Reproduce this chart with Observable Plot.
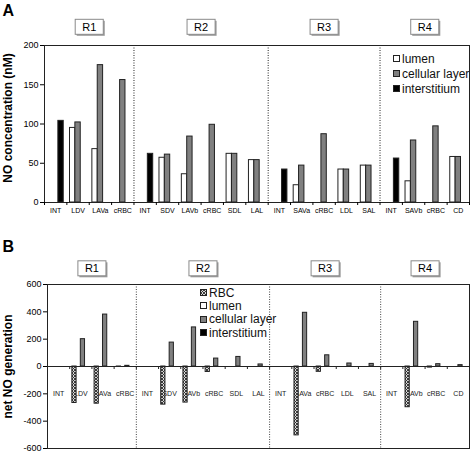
<!DOCTYPE html>
<html><head><meta charset="utf-8">
<script src="https://cdn.jsdelivr.net/npm/d3@7"></script>
<script src="https://cdn.jsdelivr.net/npm/@observablehq/plot@0.6"></script>
<style>
body{margin:0;background:#fff;font-family:"Liberation Sans",Arial,sans-serif;}
#wrap{position:relative;width:472px;height:453px;overflow:hidden;}
.panel{position:absolute;left:0;}
.legend{position:absolute;font-size:12px;color:#111;}
.legend div{display:flex;align-items:center;white-space:nowrap;}
.sw{display:inline-block;width:7px;height:7px;border:1px solid #222;box-sizing:border-box;margin-right:2px;}
</style></head><body>
<svg width="0" height="0" style="position:absolute"><defs>
<pattern id="hatch" patternUnits="userSpaceOnUse" width="3" height="3">
<rect width="3" height="3" fill="#d8d8d8"/>
<path d="M0,0L3,3M3,0L0,3" stroke="#2a2a2a" stroke-width="0.9"/>
</pattern></defs></svg>
<div id="wrap"></div>
<script>
// ---- data ----
const categories = ["INT","LDV","LAVa","cRBC","INT","SDV","LAVb","cRBC","SDL","LAL","INT","SAVa","cRBC","LDL","SAL","INT","SAVb","cRBC","CD"];
const regionNames = ["R1","R2","R3","R4"];
const regionSizes = [4,6,5,4];
const yTicksA = [0,50,100,150,200];
const yTicksB = [-600,-400,-200,0,200,400,600];
const titleA = "NO concentration (nM)";
const titleB = "net NO generation";

// Panel A: NO concentration (nM)
const lumenA        = [0, 95, 68, 0,   0, 57, 36, 0, 62, 54,   0, 22, 0, 42, 47,   0, 27, 0, 58];
const cellularA     = [0, 102, 175, 156, 0, 61, 84, 99, 62, 54, 0, 47, 87, 42, 47, 0, 79, 97, 58];
const interstitiumA = [104, 0, 0, 0,  62, 0, 0, 0, 0, 0,  42, 0, 0, 0, 0,  56, 0, 0, 0];

// Panel B: net NO generation
const rbcB          = [0, -267, -272, -3,  0, -279, -264, -40, 0, 0,  0, -504, -39, 0, 0,  0, -298, -8, 0];
const lumenB        = [0, 0, 0, 0,  0, 0, 0, 0, 0, 0,  0, 0, 0, 0, 0,  0, 0, 0, 0];
const cellularB     = [0, 200, 380, 5,  0, 175, 286, 58, 70, 15,  0, 393, 82, 22, 19,  0, 327, 17, 10];
const interstitiumB = [0, 0, 0, 0,  0, 0, 0, 0, 0, 0,  0, 0, 0, 0, 0,  0, 0, 0, 0];

const seriesA = ["lumen","cellular layer","interstitium"];
const seriesB = ["RBC","lumen","cellular layer","interstitium"];
const fills = {"RBC":"url(#hatch)","lumen":"#ffffff","cellular layer":"#808080","interstitium":"#000000"};

// ---- derived ----
const idx = categories.map((_, i) => i);
const bounds = d3.range(categories.length + 1).map(i => i - 0.5);
let acc = 0;
const regions = regionNames.map((name, k) => {
  const start = acc; acc += regionSizes[k];
  return {name, center: start + (regionSizes[k] - 1) / 2, end: acc - 0.5};
});
const separators = regions.slice(0, -1).map(r => r.end);

function bars(names, arrays, slotW) {
  const start = -slotW * names.length / 2;
  const out = [];
  names.forEach((s, j) => arrays[j].forEach((v, i) => {
    if (v !== 0) out.push({s, v, x1: i + start + j * slotW, x2: i + start + (j + 1) * slotW});
  }));
  return out;
}
const barsA = bars(seriesA, [lumenA, cellularA, interstitiumA], 0.24);
const barsB = bars(seriesB, [rbcB, lumenB, cellularB, interstitiumB], 0.19);

const font = "Liberation Sans, Arial, sans-serif";

function barMarks(data, names) {
  return names.map(s => Plot.rectY(data.filter(d => d.s === s), {
    x1: "x1", x2: "x2", y: "v", fill: fills[s], stroke: "#222", strokeWidth: 1
  }));
}

const plotA = Plot.plot({
  width: 472, height: 226, marginLeft: 44, marginRight: 3, marginTop: 45, marginBottom: 24,
  style: {fontFamily: font, background: "transparent", overflow: "visible"},
  x: {type: "linear", domain: [-0.5, categories.length - 0.5]},
  y: {domain: [0, 200]},
  marks: [
    Plot.ruleX(separators, {stroke: "#222", strokeDasharray: "1,1.5"}),
    ...barMarks(barsA, seriesA),
    Plot.frame({stroke: "#222"}),
    Plot.axisY({ticks: yTicksA, tickSize: 4, tickPadding: 2, tickFormat: d => String(d), fontSize: 9, label: null}),
    Plot.axisX({ticks: bounds, tickSize: 3, tickFormat: () => "", label: null}),
    Plot.axisX({ticks: idx, tickSize: 0, tickPadding: 6, tickFormat: i => categories[i], fontSize: 7, label: null}),
    Plot.text([titleA], {frameAnchor: "left", textAnchor: "middle", rotate: -90, dx: -36.5, dy: -6, fontWeight: "bold", fontSize: 12}),
    Plot.text(regions, {x: "center", text: "name", frameAnchor: "top", dy: -22.5, fontSize: 11}),
    Plot.text(["A"], {frameAnchor: "top-left", textAnchor: "start", lineAnchor: "top", dx: -42, dy: -41, fontWeight: "bold", fontSize: 16})
  ]
});

const plotB = Plot.plot({
  width: 472, height: 227, marginLeft: 47, marginRight: 3, marginTop: 58, marginBottom: 5,
  style: {fontFamily: font, background: "transparent", overflow: "visible"},
  x: {type: "linear", domain: [-0.5, categories.length - 0.5], axis: null},
  y: {domain: [-600, 600]},
  marks: [
    Plot.text(idx, {x: d => d, y: () => 0, text: i => categories[i], dy: 27, fontSize: 7, fill: "#222"}),
    Plot.ruleX(separators, {stroke: "#444", strokeDasharray: "1,1.5"}),
    ...barMarks(barsB, seriesB),
    Plot.ruleY([0], {stroke: "#222"}),
    Plot.ruleX(bounds, {x: d => d, y1: () => 0, y2: () => 0, insetBottom: -3, stroke: "#222"}),
    Plot.frame({stroke: "#222"}),
    Plot.axisY({ticks: yTicksB, tickSize: 4, tickPadding: 2, tickFormat: d => String(d), fontSize: 9, label: null}),
    Plot.text([titleB], {frameAnchor: "left", textAnchor: "middle", rotate: -90, dx: -39.5, fontWeight: "bold", fontSize: 12}),
    Plot.text(regions, {x: "center", text: "name", frameAnchor: "top", dy: -20, fontSize: 11}),
    Plot.text(["B"], {frameAnchor: "top-left", textAnchor: "start", lineAnchor: "top", dx: -45, dy: -44, fontWeight: "bold", fontSize: 16})
  ]
});

const wrap = document.getElementById("wrap");
function place(node, top) {
  const d = document.createElement("div");
  d.className = "panel"; d.style.top = top + "px";
  d.appendChild(node); wrap.appendChild(d);
  return d;
}
place(plotA, 0);
place(plotB, 226);

function boxify(svg) {
  svg.querySelectorAll("text").forEach(t => {
    if (!regionNames.includes(t.textContent)) return;
    const b = t.getBBox();
    const w = b.width + 14, h = 15;
    const cx = b.x + b.width / 2, cy = b.y + b.height / 2;
    const ns = "http://www.w3.org/2000/svg";
    const shadow = document.createElementNS(ns, "rect");
    const box = document.createElementNS(ns, "rect");
    [shadow, box].forEach(r => {
      r.setAttribute("transform", t.getAttribute("transform") || "");
      r.setAttribute("width", w); r.setAttribute("height", h);
    });
    shadow.setAttribute("x", cx - w / 2 + 1.5); shadow.setAttribute("y", cy - h / 2 + 1.5);
    shadow.setAttribute("fill", "#9a9a9a");
    box.setAttribute("x", cx - w / 2); box.setAttribute("y", cy - h / 2);
    box.setAttribute("fill", "#fff"); box.setAttribute("stroke", "#8a8a8a");
    t.parentNode.insertBefore(shadow, t);
    t.parentNode.insertBefore(box, t);
  });
}
boxify(plotA); boxify(plotB);

function legend(names, left, top, rowH) {
  const L = document.createElement("div");
  L.className = "legend";
  L.style.left = left + "px"; L.style.top = top + "px";
  names.forEach(n => {
    const row = document.createElement("div");
    row.style.height = rowH + "px";
    const sw = document.createElement("span");
    sw.className = "sw";
    if (n === "RBC") {
      sw.innerHTML = '<svg width="5" height="5" style="display:block"><rect width="5" height="5" fill="url(#hatch)"/></svg>';
    } else sw.style.background = fills[n];
    row.appendChild(sw);
    row.appendChild(document.createTextNode(n));
    L.appendChild(row);
  });
  wrap.appendChild(L);
}
legend(seriesA, 393, 51, 15);
legend(seriesB, 200, 286, 13.3);
</script>
</body></html>
